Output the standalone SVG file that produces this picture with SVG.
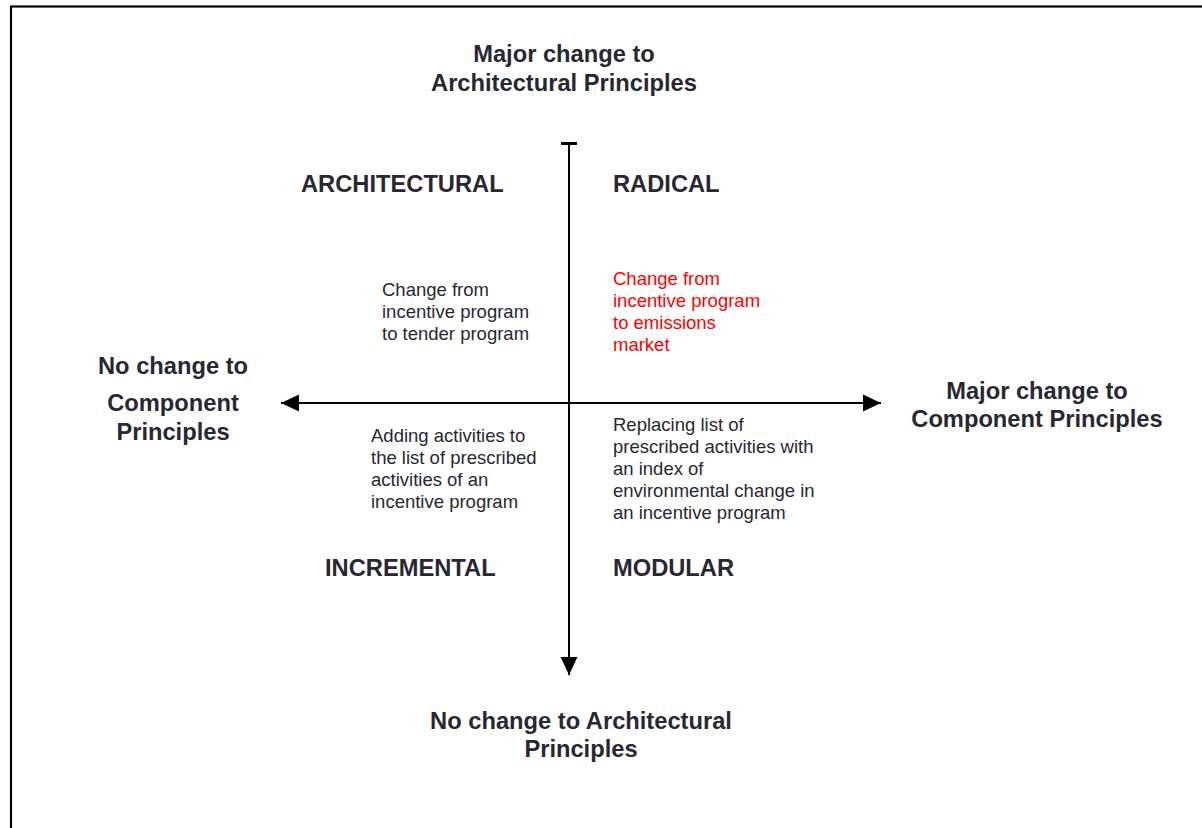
<svg xmlns="http://www.w3.org/2000/svg" width="1202" height="828" viewBox="0 0 1202 828">
<defs>
<style>
.t{font-family:"Liberation Sans",Arial,sans-serif;fill:#282832}
.b{font-weight:bold;font-size:23.7px}
.s{font-size:18.5px}
.red{fill:#ff0000}
.ax{stroke:#000;stroke-width:2;fill:none}
</style>
<marker id="ah" markerUnits="userSpaceOnUse" markerWidth="18" markerHeight="18" viewBox="0 -8 16 16" refX="16" refY="0" orient="auto-start-reverse">
<path d="M0,-7.5 L16,0 L0,7.5 Z" fill="#000"/>
</marker>
</defs>
<rect width="1202" height="828" fill="#fff"/>
<rect x="11" y="6.5" width="1200" height="830" fill="none" stroke="#000" stroke-width="2.2"/>
<g id="connectors">
<line class="ax" x1="569" y1="143.5" x2="569" y2="675" marker-end="url(#ah)"/>
<line x1="561" y1="143.5" x2="577" y2="143.5" stroke="#000" stroke-width="3"/>
<line class="ax" x1="281" y1="403" x2="881" y2="403" marker-start="url(#ah)" marker-end="url(#ah)"/>
</g>
<g id="top-label">
<text class="t b" x="564" y="62" text-anchor="middle">Major change to</text>
<text class="t b" x="564" y="91" text-anchor="middle">Architectural Principles</text>
</g>
<g id="left-label">
<text class="t b" x="173" y="374" text-anchor="middle">No change to</text>
<text class="t b" x="173" y="411" text-anchor="middle">Component</text>
<text class="t b" x="173" y="440" text-anchor="middle">Principles</text>
</g>
<g id="right-label">
<text class="t b" x="1037" y="399" text-anchor="middle">Major change to</text>
<text class="t b" x="1037" y="427" text-anchor="middle">Component Principles</text>
</g>
<g id="bottom-label">
<text class="t b" x="581" y="729" text-anchor="middle">No change to Architectural</text>
<text class="t b" x="581" y="757" text-anchor="middle">Principles</text>
</g>
<g id="architectural">
<text class="t b" x="301" y="192">ARCHITECTURAL</text>
<text class="t s" x="382" y="296">Change from</text>
<text class="t s" x="382" y="318">incentive program</text>
<text class="t s" x="382" y="340">to tender program</text>
</g>
<g id="radical">
<text class="t b" x="613" y="192">RADICAL</text>
<text class="t s red" x="613" y="285">Change from</text>
<text class="t s red" x="613" y="307">incentive program</text>
<text class="t s red" x="613" y="329">to emissions</text>
<text class="t s red" x="613" y="351">market</text>
</g>
<g id="incremental">
<text class="t s" x="371" y="442">Adding activities to</text>
<text class="t s" x="371" y="464">the list of prescribed</text>
<text class="t s" x="371" y="486">activities of an</text>
<text class="t s" x="371" y="508">incentive program</text>
<text class="t b" x="325" y="576">INCREMENTAL</text>
</g>
<g id="modular">
<text class="t s" x="613" y="431">Replacing list of</text>
<text class="t s" x="613" y="453">prescribed activities with</text>
<text class="t s" x="613" y="475">an index of</text>
<text class="t s" x="613" y="497">environmental change in</text>
<text class="t s" x="613" y="519">an incentive program</text>
<text class="t b" x="613" y="576">MODULAR</text>
</g>
</svg>
